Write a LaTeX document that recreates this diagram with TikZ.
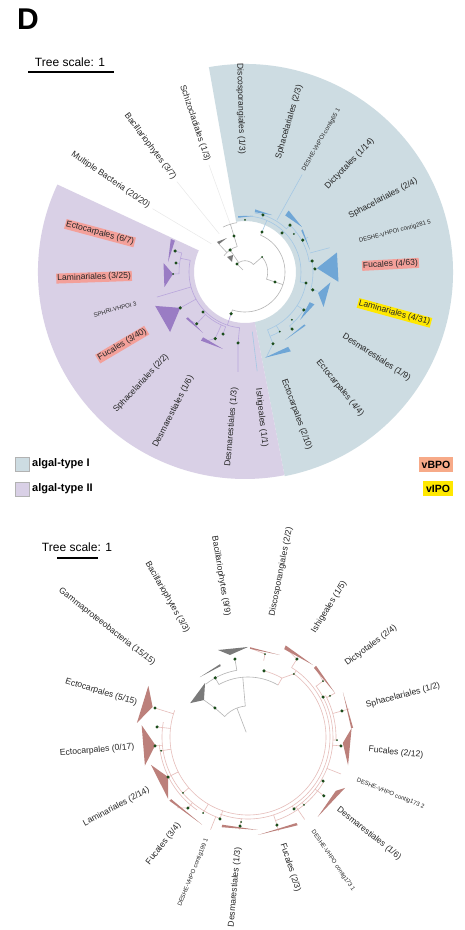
\documentclass[tikz,border=0pt]{standalone}
\usepackage{fontspec}
\setmainfont{Liberation Sans}
\usetikzlibrary{calc}
\definecolor{regI}{HTML}{CDDCE2}
\definecolor{regII}{HTML}{D9D0E6}
\definecolor{triI}{HTML}{6FA6D6}
\definecolor{lnI}{HTML}{A5C8E4}
\definecolor{triII}{HTML}{9A7CC4}
\definecolor{lnII}{HTML}{B9A6DC}
\definecolor{triG}{HTML}{7A7A7A}
\definecolor{lnG}{HTML}{B5B5B5}
\definecolor{triB}{HTML}{BC807B}
\definecolor{lnB}{HTML}{E6BDBA}
\definecolor{dotc}{HTML}{1B4D1B}
\definecolor{salm}{HTML}{F3A09A}
\definecolor{vb}{HTML}{F7AA88}
\definecolor{yel}{HTML}{FFE800}
\tikzset{
 lbl/.style={font=\fontsize{8.6}{10}\selectfont, inner sep=1pt, text=black!85},
 tiny/.style={font=\fontsize{6}{7}\selectfont},
 hls/.style={fill=salm},
 hly/.style={fill=yel},
 gl/.style={draw=lnG, line width=0.6pt},
 bl/.style={draw=lnI, line width=0.6pt},
 pl/.style={draw=lnII, line width=0.6pt},
 rl/.style={draw=lnB, line width=0.6pt},
 leader/.style={draw=black!10, line width=0.4pt},
 legtxt/.style={font=\bfseries\fontsize{11}{12}\selectfont, anchor=west, inner sep=0pt},
 legbox/.style={draw=black!30, minimum width=14pt, minimum height=14pt, inner sep=0pt},
 scaletxt/.style={font=\fontsize{12}{13}\selectfont, inner sep=0pt},
 scalebar/.style={line width=2pt, black},
}
\newcommand\dt[2]{\fill[dotc] (#1:#2) circle[radius=1.7];}
\newcommand\sdt[2]{\fill[dotc] (#1:#2) circle[radius=1.0];}
\newcommand\clade[6]{\fill[#1] (#2:#3) -- (#4:#6) -- (#5:#6) -- cycle;}
\newcommand\sliver[6]{\fill[#1] (#2:#3) -- (#4:{#5-#6}) -- (#4:{#5+#6}) -- cycle;}
\newcommand\rightlab[5][]{\node[lbl,#1,anchor=west,rotate=#3] (#2) at (#3:#4) {#5};}
\newcommand\leftlab[5][]{\node[lbl,#1,anchor=east,rotate=#3-180] (#2) at (#3:#4) {#5};}
\begin{document}
\begin{tikzpicture}[x=1pt,y=1pt]
\useasboundingbox (0,0) rectangle (465,930);
\fill[white] (0,0) rectangle (465,930);

% title
\node[font=\bfseries\fontsize{30}{30}\selectfont, inner sep=0pt] (title) at (28,911) {D};

% top scale
\node[scaletxt] (ts1) at (70,868) {Tree scale: 1};
\coordinate (ts1a) at (28,858);
\coordinate (ts1b) at (114,858);
\draw[scalebar] (ts1a) -- (ts1b);

% ================= TOP TREE =================
\begin{scope}[shift={(245,658)}]
\fill[regI] (100:208) arc[start angle=100,end angle=-79,radius=208] -- (-79:51) arc[start angle=-79,end angle=100,radius=51] -- cycle;
\fill[regII] (155:207) arc[start angle=155,end angle=281,radius=207] -- (281:51) arc[start angle=281,end angle=155,radius=51] -- cycle;

% leaders in white sector
\draw[leader] (107:48) -- (108.6:113);
\draw[leader] (124:46) -- (127:113);
\draw[leader] (140:44) -- (145.6:112);

% grey inner tree
\draw[gl] (135:11.3) arc[start angle=135,end angle=41.4,radius=11.3] -- (41.4:22.7);
\draw[gl] (135:11.3) -- (135:3);
\draw[gl] (124:11.3) -- (124:26.6);
\draw[gl] (107:26.6) arc[start angle=107,end angle=142,radius=26.6];
\draw[gl] (107:26.6) -- (107:37.6) -- (107:50);
\draw[gl] (116:50) arc[start angle=116,end angle=99,radius=50];
\draw[gl] (133:26.6) -- (133:38);
\draw[gl] (41.4:22.7) arc[start angle=41.4,end angle=-18.4,radius=22.7] -- (-18.4:40);
\draw[gl] (67:43.5) -- (67:40) arc[start angle=67,end angle=-108.4,radius=40] -- (-108.4:44);
\fill[triG] (140:23.4) -- (125:20.8) -- (142.4:16.4) -- cycle;
\sliver{triG}{118}{38.5}{133}{39.6}{1.5}

% blue clade lines
\draw[bl] (67:43.5) -- (67:56) arc[start angle=67,end angle=-10.2,radius=56] -- (-10.2:62);
\draw[bl] (67:56) arc[start angle=67,end angle=95,radius=56];
\draw[bl] (72.5:56) -- (72.5:59.8);
\draw[bl] (80.7:59.8) arc[start angle=80.7,end angle=46.2,radius=59.8] -- (46.2:65);
\draw[bl] (46.2:65) arc[start angle=46.2,end angle=9.3,radius=65] -- (9.3:68);
\draw[bl] (28.9:65) -- (28.9:72);
\draw[bl] (37.8:62) -- (37.8:65);
\draw[bl] (9.3:68) arc[start angle=9.3,end angle=-14.8,radius=68] -- (-14.8:76);
\draw[bl] (2.5:68) -- (2.5:72);
\draw[bl] (-10.2:62) arc[start angle=-10.2,end angle=-68.7,radius=62];
\draw[bl] (-32.8:62) -- (-32.8:70) arc[start angle=-32.8,end angle=-50.5,radius=70] -- (-50.5:74);
\draw[bl] (-45.6:67) -- (-45.6:70);
\draw[bl] (-59.7:62) -- (-59.7:69) arc[start angle=-59.7,end angle=-68.7,radius=69];
\draw[bl] (-68.7:62) -- (-68.7:77) -- (-76:88);
\draw[bl] (58.4:61) -- (59.6:113);
\draw[bl] (16.3:67.7) -- (16:88);
\draw[bl] (-83:60) -- (-83:100);

% blue clades
\sliver{triI}{82}{56.6}{97}{55.4}{0.8}
\sliver{triI}{64.6}{63}{80.7}{62}{1.4}
\sliver{triI}{38.3}{72.6}{54.6}{72.4}{3}
\sliver{triI}{18.7}{68.6}{36.4}{70.8}{0.9}
\clade{triI}{3}{72}{12}{-6}{94}
\clade{triI}{-16}{76}{-7}{-24}{86}
\sliver{triI}{-41}{73}{-25}{74}{2.6}
\sliver{triI}{-59.5}{79}{-41.5}{80}{0.9}
\sliver{triI}{-77}{88}{-60}{89}{2.6}

% purple clade lines
\draw[pl] (251.6:44) -- (251.6:56);
\draw[pl] (168:56) arc[start angle=168,end angle=264.4,radius=56];
\draw[pl] (168:56) -- (168:66);
\draw[pl] (163.3:66) arc[start angle=163.3,end angle=181.6,radius=66];
\draw[pl] (163.3:66) -- (163.3:73);
\draw[pl] (172.6:66) -- (172.6:69.6);
\draw[pl] (181.6:66) -- (181.6:72);
\draw[pl] (195.5:56) -- (195.9:91.5);
\draw[pl] (209:56) -- (209:74);
\draw[pl] (223.6:56) -- (223.6:58) arc[start angle=223.6,end angle=250.5,radius=58];
\draw[pl] (227:58) -- (227:70.8) -- (220:74);
\draw[pl] (245.9:58) -- (245.9:73) -- (240:80);
\draw[pl] (250.5:58) -- (250.5:65.8);
\draw[pl] (264.4:56) -- (264.4:71.3) -- (266:100);

% purple clades
\clade{triII}{181.6}{72}{173.7}{190.6}{82}
\clade{triII}{209}{74}{200.7}{218.7}{96}
\sliver{triII}{172.6}{77.6}{156}{79}{2.2}
\sliver{triII}{235.5}{74}{218.4}{74}{1.2}
\sliver{triII}{254}{80}{237.3}{79.6}{2}

% dots
\dt{72.5}{59.8} \sdt{90}{52} \dt{46.5}{53.8} \dt{46.2}{65} \sdt{37.8}{62}
\dt{28.9}{66} \dt{9.3}{68} \dt{2.5}{70} \dt{-10.2}{62} \dt{-14.8}{70}
\dt{-32.8}{70} \sdt{-45.6}{67} \dt{-50.5}{74} \sdt{-59.7}{69} \dt{-68.7}{77}
\dt{163.3}{73} \dt{172.6}{69.6} \sdt{181.6}{72} \dt{209}{74} \dt{223.6}{58}
\dt{227}{70.8} \dt{245.9}{73} \dt{250.5}{65.8} \dt{264.4}{71.3}
\dt{107}{37.6} \dt{124}{26.6} \dt{135}{11.3} \dt{67}{43.5} \sdt{41.4}{22.7}
\dt{-18.4}{31.6} \dt{251.6}{44}

% labels
\rightlab{tIsh}{-83.5}{116}{Ishigeales (1/1)}
\rightlab{tEc210}{-70}{113}{Ectocarpales (2/10)}
\rightlab{tEc44}{-50.7}{114}{Ectocarpales (4/4)}
\rightlab{tDe19}{-33}{116}{Desmarestiales (1/9)}
\rightlab[hly]{tLa431}{-15.3}{117}{Laminariales (4/31)}
\rightlab[hls]{tFu463}{3}{117}{Fucales (4/63)}
\rightlab[tiny]{tC281}{15}{117}{DESHE-VHPOI contig281 5}
\rightlab{tSp24}{28}{117}{Sphacelariales (2/4)}
\rightlab{tDi114}{46}{116}{Dictyotales (1/14)}
\rightlab[tiny]{tC65}{60}{116}{DESHE-VHPOI contig65 1}
\rightlab{tSp23}{73.6}{117}{Sphacelariales (2/3)}
\leftlab{tDis13}{91.5}{117}{Discosporangiales (1/3)}
\leftlab{tSch13}{108.6}{116}{Schizocladiales (1/3)}
\leftlab{tBa37}{127}{116}{Bacillariophytes (3/7)}
\leftlab{tMB}{145.6}{115}{Multiple Bacteria (20/20)}
\leftlab[hls]{tEc67}{165}{114}{Ectocarpales (6/7)}
\leftlab[hls]{tLa325}{182}{113}{Laminariales (3/25)}
\leftlab[tiny]{tSPH}{196}{112}{SPHRI-VHPOI 3}
\leftlab[hls]{tFu340}{210.6}{114}{Fucales (3/40)}
\leftlab{tSp22}{227}{113}{Sphacelariales (2/2)}
\leftlab{tDe16}{242.8}{116}{Desmarestiales (1/6)}
\leftlab{tDe13}{265}{115}{Desmarestiales (1/3)}
\end{scope}

% legend
\node[legbox, fill=regI] (lg1) at (22,466) {};
\node[legtxt] (lg1t) at (32,466) {algal-type I};
\node[legbox, fill=regII] (lg2) at (22,441) {};
\node[legtxt] (lg2t) at (32,441) {algal-type II};
\node[fill=vb, minimum width=34pt, minimum height=15pt, inner sep=0pt, font=\bfseries\fontsize{10.5}{11}\selectfont] (vbpo) at (436,465.5) {vBPO};
\node[fill=yel, minimum width=30pt, minimum height=15pt, inner sep=0pt, font=\bfseries\fontsize{10.5}{11}\selectfont] (vipo) at (438,441.5) {vIPO};

% bottom scale
\node[scaletxt] (ts2) at (77,383) {Tree scale: 1};
\coordinate (ts2a) at (57,372);
\coordinate (ts2b) at (98,372);
\draw[scalebar] (ts2a) -- (ts2b);

% ================= BOTTOM TREE =================
\begin{scope}[shift={(248,193)}]
% grey part
\draw[gl] (111:5) -- (111:31);
\draw[gl] (138.7:31) arc[start angle=138.7,end angle=95,radius=31];
\draw[gl] (138.7:31) -- (138.7:44) -- (140:57.5);
\draw[gl] (95:31) -- (95:60);
\draw[gl] (119:60) arc[start angle=119,end angle=60,radius=60];
\draw[gl] (119:60) -- (119:67.6);
\draw[gl] (128.7:67.6) arc[start angle=128.7,end angle=99.5,radius=67.6];
\draw[gl] (99.5:67.6) -- (99.5:79);
\fill[triG] (109:92) -- (90:90) -- (102.4:84) -- cycle;
\fill[triG] (149.6:67) -- (128.5:69) -- (140:57.5) -- cycle;
\sliver{triG}{128.7}{76.8}{111}{77}{1}

% pink ring
\draw[rl] (60:60) -- (60:68) arc[start angle=60,end angle=76.4,radius=68];
\draw[rl] (60:68) -- (54:78);
\draw[rl] (54:78) arc[start angle=54,end angle=-200,radius=78];
\draw[rl] (58:82) arc[start angle=58,end angle=-110,radius=82];
\draw[rl] (37:85) arc[start angle=37,end angle=-58,radius=85];
\draw[rl] (28:88) arc[start angle=28,end angle=-2,radius=88];
\draw[rl] (-110:86) arc[start angle=-110,end angle=-190,radius=86];
\draw[rl] (-125:89) arc[start angle=-125,end angle=-175,radius=89];
\draw[rl] (-30:88) arc[start angle=-30,end angle=-72,radius=88];
% spokes
\draw[rl] (78.4:78) -- (78.4:84.7) -- (88.7:89);
\draw[rl] (57.9:82) -- (57.9:92) -- (67.6:97);
\draw[rl] (53.9:78) -- (53.9:82);
\draw[rl] (36.7:85) -- (36.7:93.6) -- (46.3:97);
\draw[rl] (28:85) -- (28:88);
\draw[rl] (26.6:88) -- (26.6:91.7) -- (26.8:97.5);
\draw[rl] (15.5:88) -- (15.5:97.5) -- (15.5:105);
\draw[rl] (-2:85) -- (-2:89);
\draw[rl] (-5.5:85) -- (-5.5:93.4);
\draw[rl] (-21.7:85) -- (-21.7:100);
\draw[rl] (-30.4:85) -- (-30.4:87);
\draw[rl] (-37.8:85) -- (-37.8:96);
\draw[rl] (-50.5:85) -- (-50.5:88);
\draw[rl] (-55.5:85) -- (-55.5:100);
\draw[rl] (-57.4:82) -- (-57.4:85.4);
\draw[rl] (-71.8:82) -- (-71.8:92.7) -- (-72:99);
\draw[rl] (265.3:82) -- (265.3:85.3);
\draw[rl] (264.9:85.3) -- (264.9:93);
\draw[rl] (251.1:78) -- (251.1:86.6);
\draw[rl] (248:86) -- (248:100);
\draw[rl] (239.4:78) -- (239.4:88.3);
\draw[rl] (229.8:86) -- (229.8:93) -- (225:100);
\draw[rl] (220.7:78) -- (220.7:85.8);
\draw[rl] (206.6:78) -- (206.6:89.4);
\draw[rl] (189:78) -- (189:88);
\draw[rl] (185.5:86) -- (185.5:93.4);
\draw[rl] (173.7:78) -- (173.7:91.5);
\draw[rl] (162.7:78) -- (162.7:97.4);

% brown clades
\clade{triB}{162.5}{100}{152.8}{172.8}{112}
\clade{triB}{185}{93}{173.7}{195.5}{107}
\clade{triB}{206.6}{89.4}{196}{217.7}{101}
\clade{triB}{-3.6}{95}{4.9}{-15.8}{104}
\fill[triB] (-48.8:106) -- (-31.5:103) -- (-27.7:109.6) -- cycle;
\sliver{triB}{25.3}{105}{5}{104.5}{1}
\sliver{triB}{47.9}{97}{67.6}{97}{2}
\sliver{triB}{26.8}{97.5}{46.3}{97}{1.5}
\sliver{triB}{68.7}{88}{88.7}{89}{0.8}
\sliver{triB}{242.4}{99}{219}{100}{1.2}
\sliver{triB}{276}{93.5}{253.7}{92.7}{1.3}
\sliver{triB}{275.8}{98.5}{299.4}{100}{1.3}

% dots
\dt{99.5}{79} \dt{138.7}{44} \dt{119}{67.6}
\dt{76.4}{68} \sdt{53.9}{78} \dt{57.9}{92} \sdt{78.4}{84.7}
\sdt{36.7}{93.6} \dt{28}{85} \sdt{26.6}{91.7} \dt{15.5}{97.5}
\sdt{-2}{89} \dt{-5.5}{93.4} \dt{-30.4}{87} \dt{-37.8}{96}
\sdt{-50.5}{88} \dt{-57.4}{85.4} \dt{-71.8}{92.7}
\sdt{265.3}{85.3} \dt{264.9}{89.4} \dt{251.1}{86.6} \sdt{239.4}{88.3}
\dt{229.8}{93} \sdt{220.7}{85.8} \dt{206.6}{89.4} \sdt{189}{88}
\dt{185.5}{93.4} \dt{173.7}{91.5} \dt{162.7}{97.4}

% labels
\rightlab{bDis}{78.7}{122}{Discosporangiales (2/2)}
\rightlab{bIsh}{58}{122.6}{Ishigeales (1/5)}
\rightlab{bDic}{36.6}{121}{Dictyotales (2/4)}
\rightlab{bSph}{15}{121}{Sphacelariales (1/2)}
\rightlab{bFu1}{-6}{120}{Fucales (2/12)}
\rightlab[tiny]{bC2}{-21.7}{116}{DESHE-VHPO contig173 2}
\rightlab{bDe1}{-38.6}{114}{Desmarestiales (1/6)}
\rightlab[tiny]{bC1}{-55.5}{113}{DESHE-VHPO contig173 1}
\rightlab{bFu2}{-72}{111}{Fucales (2/3)}
\leftlab{bBa1}{99.5}{122}{Bacillariophytes (9/9)}
\leftlab{bBa2}{120}{120}{Bacillariophytes (3/3)}
\leftlab{bGam}{142}{117.6}{Gammaproteeobacteria (15/15)}
\leftlab{bEc1}{163}{115}{Ectocarpales (5/15)}
\leftlab{bEc2}{185}{113}{Ectocarpales (0/17)}
\leftlab{bLam}{208}{111}{Laminariales (2/14)}
\leftlab{bFu3}{231.7}{110}{Fucales (3/4)}
\leftlab[tiny]{bC3}{248}{109}{DESHE-VHPO contig199 1}
\leftlab{bDe2}{265}{110}{Desmarestiales (1/3)}
\end{scope}
\end{tikzpicture}
\end{document}
